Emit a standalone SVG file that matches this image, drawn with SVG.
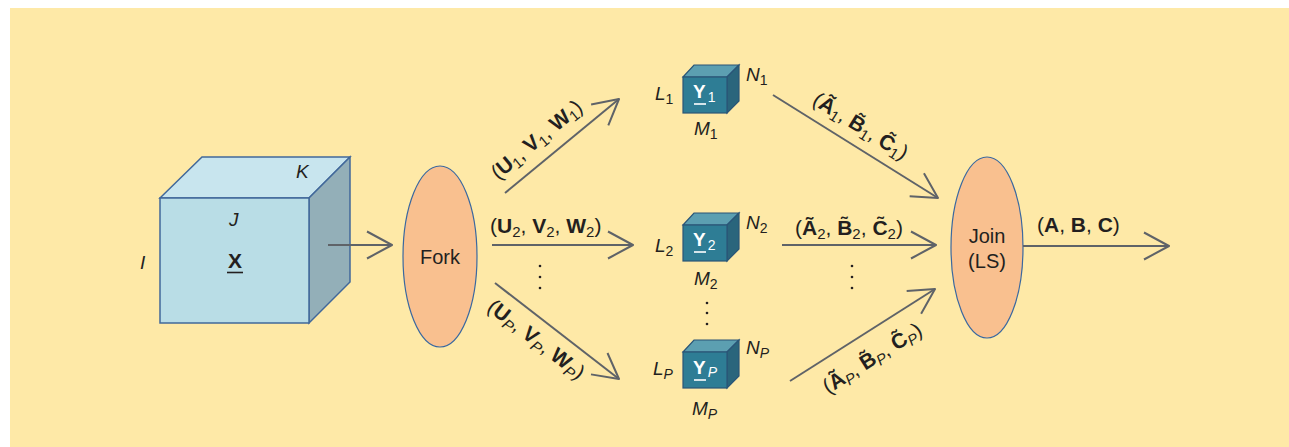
<svg xmlns="http://www.w3.org/2000/svg" width="1289" height="447" viewBox="0 0 1289 447">
<style>
text{font-family:"Liberation Sans",Arial,sans-serif;fill:#231f20}
.lbl{font-size:21px}
.b{font-weight:bold}
.sub{font-size:15px;font-weight:normal}
.it{font-style:italic}
.dim{font-size:19px;font-style:italic}
.dsub{font-size:14px;font-style:normal}
.dsub.it{font-style:italic}
.yl{font-size:19px;font-weight:bold;fill:#fff}
.ysub{font-size:14px;font-weight:normal;fill:#fff}
.conn{fill:none;stroke:#5f6368;stroke-width:2;marker-end:url(#ah)}
.ell{fill:#f9c08f;stroke:#3a68a0;stroke-width:1.2}
.bf{fill:#b9dde6;stroke:#41689a;stroke-width:1.5}
.bt{fill:#c8e5ee;stroke:#41689a;stroke-width:1.5}
.br{fill:#93afb8;stroke:#41689a;stroke-width:1.5}
.sf{fill:#2e7d95;stroke:#2a5577;stroke-width:1.2}
.st{fill:#5c9fb1;stroke:#2a5577;stroke-width:1.2}
.sr{fill:#2a657c;stroke:#2a5577;stroke-width:1.2}
.dot{fill:#231f20}
.node text.c{font-size:20px;text-anchor:middle}
</style>
<defs>
<marker id="ah" markerUnits="userSpaceOnUse" markerWidth="34" markerHeight="34" viewBox="-29 -17 34 34" refX="0" refY="0" orient="auto">
<path d="M-25,-13.5 L0,0 L-25,13.5" fill="none" stroke="#5f6368" stroke-width="2" stroke-linejoin="round"/>
</marker>
</defs>
<rect x="10" y="8" width="1279" height="439" fill="#fee9a7"/>

<g id="tensor-X" class="node">
<polygon class="bt" points="160,198 202,157 350,157 309,198"/>
<polygon class="br" points="309,198 350,157 350,282 309,323"/>
<rect class="bf" x="160" y="198" width="149" height="125"/>
<text class="dim" x="296" y="178">K</text>
<text class="dim" x="229" y="226">J</text>
<text class="dim" x="140" y="269">I</text>
<text class="b" x="235" y="268" font-size="21" text-anchor="middle">X</text>
<line x1="227" y1="272.5" x2="243" y2="272.5" stroke="#231f20" stroke-width="1.6"/>
</g>

<g id="fork" class="node">
<ellipse class="ell" cx="440" cy="256.5" rx="37" ry="90.5"/>
<text class="c" x="440" y="264">Fork</text>
</g>

<g id="Y1" class="node">
<polygon class="st" points="683,77 694,65 739,65 727,77"/>
<polygon class="sr" points="727,77 739,65 739,101 727,113"/>
<rect class="sf" x="683" y="77" width="44" height="36"/>
<text class="yl" x="693" y="98">Y<tspan class="ysub" dx="2" dy="4">1</tspan></text>
<line x1="694" y1="104" x2="706" y2="104" stroke="#fff" stroke-width="1.6"/>
<text class="dim" x="655" y="100">L<tspan class="dsub" dy="4">1</tspan></text>
<text class="dim" x="746" y="81">N<tspan class="dsub" dy="4">1</tspan></text>
<text class="dim" x="694" y="135">M<tspan class="dsub" dy="4">1</tspan></text>
</g>

<g id="Y2" class="node">
<polygon class="st" points="683,225 694,213 739,213 727,225"/>
<polygon class="sr" points="727,225 739,213 739,249 727,261"/>
<rect class="sf" x="683" y="225" width="44" height="36"/>
<text class="yl" x="693" y="246">Y<tspan class="ysub" dx="2" dy="4">2</tspan></text>
<line x1="694" y1="252" x2="706" y2="252" stroke="#fff" stroke-width="1.6"/>
<text class="dim" x="655" y="252">L<tspan class="dsub" dy="4">2</tspan></text>
<text class="dim" x="746" y="229">N<tspan class="dsub" dy="4">2</tspan></text>
<text class="dim" x="694" y="285">M<tspan class="dsub" dy="4">2</tspan></text>
</g>

<g id="YP" class="node">
<polygon class="st" points="683,352 694,340 739,340 727,352"/>
<polygon class="sr" points="727,352 739,340 739,376 727,388"/>
<rect class="sf" x="683" y="352" width="44" height="36"/>
<text class="yl" x="693" y="374">Y<tspan class="ysub it" dx="2" dy="3">P</tspan></text>
<line x1="694" y1="380" x2="706" y2="380" stroke="#fff" stroke-width="1.6"/>
<text class="dim" x="653" y="375">L<tspan class="dsub it" dy="4">P</tspan></text>
<text class="dim" x="746" y="354">N<tspan class="dsub it" dy="4">P</tspan></text>
<text class="dim" x="692" y="415">M<tspan class="dsub it" dy="4">P</tspan></text>
</g>

<g id="join" class="node">
<ellipse class="ell" cx="987" cy="247.5" rx="36" ry="90.5"/>
<text class="c" x="987" y="243">Join</text>
<text class="c" x="987" y="268">(LS)</text>
</g>

<g id="connectors">
<path class="conn" d="M328,245 H392"/>
<path class="conn" d="M505,193 L619,99"/>
<path class="conn" d="M492,245 H633"/>
<path class="conn" d="M495,283 L619,379"/>
<path class="conn" d="M773,95 L938,198"/>
<path class="conn" d="M782,245 H936"/>
<path class="conn" d="M790,381 L935,289"/>
<path class="conn" d="M1023,246 H1169"/>
</g>

<g id="labels">
<text class="lbl" text-anchor="middle" transform="translate(541,145) rotate(-39.7)">(<tspan class="b">U</tspan><tspan class="sub" dy="4">1</tspan><tspan dy="-4">, </tspan><tspan class="b">V</tspan><tspan class="sub" dy="4">1</tspan><tspan dy="-4">, </tspan><tspan class="b">W</tspan><tspan class="sub" dy="4">1</tspan><tspan dy="-4">)</tspan></text>
<text class="lbl" x="490" y="233">(<tspan class="b">U</tspan><tspan class="sub" dy="4">2</tspan><tspan dy="-4">, </tspan><tspan class="b">V</tspan><tspan class="sub" dy="4">2</tspan><tspan dy="-4">, </tspan><tspan class="b">W</tspan><tspan class="sub" dy="4">2</tspan><tspan dy="-4">)</tspan></text>
<text class="lbl" text-anchor="middle" transform="translate(532,345) rotate(37.7)">(<tspan class="b">U</tspan><tspan class="sub it" dy="4">P</tspan><tspan dy="-4">, </tspan><tspan class="b">V</tspan><tspan class="sub it" dy="4">P</tspan><tspan dy="-4">, </tspan><tspan class="b">W</tspan><tspan class="sub it" dy="4">P</tspan><tspan dy="-4">)</tspan></text>
<text class="lbl" text-anchor="middle" transform="translate(857,132) rotate(32)">(<tspan class="b">A&#x303;</tspan><tspan class="sub" dy="4">1</tspan><tspan dy="-4">, </tspan><tspan class="b">B&#x303;</tspan><tspan class="sub" dy="4">1</tspan><tspan dy="-4">, </tspan><tspan class="b">C&#x303;</tspan><tspan class="sub" dy="4">1</tspan><tspan dy="-4">)</tspan></text>
<text class="lbl" x="795" y="235">(<tspan class="b">A&#x303;</tspan><tspan class="sub" dy="4">2</tspan><tspan dy="-4">, </tspan><tspan class="b">B&#x303;</tspan><tspan class="sub" dy="4">2</tspan><tspan dy="-4">, </tspan><tspan class="b">C&#x303;</tspan><tspan class="sub" dy="4">2</tspan><tspan dy="-4">)</tspan></text>
<text class="lbl" text-anchor="middle" transform="translate(876,364) rotate(-32.4)">(<tspan class="b">A&#x303;</tspan><tspan class="sub it" dy="4">P</tspan><tspan dy="-4">, </tspan><tspan class="b">B&#x303;</tspan><tspan class="sub it" dy="4">P</tspan><tspan dy="-4">, </tspan><tspan class="b">C&#x303;</tspan><tspan class="sub it" dy="4">P</tspan><tspan dy="-4">)</tspan></text>
<text class="lbl" x="1037" y="232">(<tspan class="b">A</tspan>, <tspan class="b">B</tspan>, <tspan class="b">C</tspan>)</text>
</g>

<g id="ellipsis-dots">
<circle class="dot" cx="540" cy="266" r="1.3"/><circle class="dot" cx="540" cy="277" r="1.3"/><circle class="dot" cx="540" cy="288" r="1.3"/>
<circle class="dot" cx="852" cy="266" r="1.3"/><circle class="dot" cx="852" cy="277" r="1.3"/><circle class="dot" cx="852" cy="288" r="1.3"/>
<circle class="dot" cx="707" cy="303" r="1.3"/><circle class="dot" cx="707" cy="313" r="1.3"/><circle class="dot" cx="707" cy="324" r="1.3"/>
</g>
</svg>
